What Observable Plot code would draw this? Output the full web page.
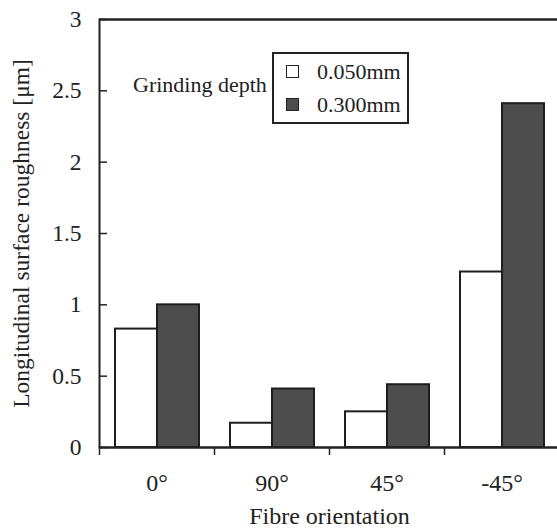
<!DOCTYPE html>
<html>
<head>
<meta charset="utf-8">
<script src="https://cdn.jsdelivr.net/npm/d3@7"></script>
<script src="https://cdn.jsdelivr.net/npm/@observablehq/plot@0.6"></script>
<style>
  html, body { margin: 0; padding: 0; background: #fff; }
  #chart { position: relative; width: 557px; height: 530px; font-family: "Liberation Serif", "DejaVu Serif", serif; color: #222; }
  #chart svg text { font-family: "Liberation Serif", serif; }
  #legendTitle { position: absolute; left: 133px; top: 72px; font-size: 22px; line-height: 26px; white-space: nowrap; }
  #legendBox { position: absolute; left: 272px; top: 52px; width: 133px; height: 68px; border: 2px solid #222; }
  .item { position: absolute; left: 12px; height: 26px; line-height: 26px; font-size: 22px; white-space: nowrap; }
  .sw { display: inline-block; width: 11px; height: 11px; border: 1.5px solid #222; vertical-align: middle; margin-right: 18px; position: relative; top: -2px; }
</style>
</head>
<body>
<div id="chart"></div>
<script>
// Data
const orientations = ["0°", "90°", "45°", "-45°"];
const depths = ["0.050mm", "0.300mm"];
const roughness005 = [0.83, 0.17, 0.25, 1.23];
const roughness030 = [1.00, 0.41, 0.44, 2.41];
const yTicks = [0, 0.5, 1, 1.5, 2, 2.5, 3];
const yTickLabels = ["0", "0.5", "1", "1.5", "2", "2.5", "3"];
const depthColors = ["#ffffff", "#4d4d4d"];

const data = [];
orientations.forEach((o, i) => {
  data.push({orientation: o, depth: depths[0], value: roughness005[i]});
  data.push({orientation: o, depth: depths[1], value: roughness030[i]});
});

const W = 557, H = 530, mL = 99, mR = -2, mT = 19, mB = 83;
const bandW = (W - mL - mR) / orientations.length;
const font = "'Liberation Serif', serif";

const plot = Plot.plot({
  width: W, height: H,
  marginLeft: mL, marginRight: mR, marginTop: mT, marginBottom: mB,
  style: {fontFamily: font, fontSize: "23px", color: "#222", background: "#fff", overflow: "visible"},
  fx: {domain: orientations, padding: 0},
  x: {domain: depths, paddingInner: 0, paddingOuter: 0.34, axis: null},
  y: {domain: [0, 3]},
  color: {domain: depths, range: depthColors},
  marks: [
    Plot.barY(data, {fx: "orientation", x: "depth", y: "value", fill: "depth", stroke: "#1e1e1e", strokeWidth: 2}),
    Plot.ruleY([0, 3], {stroke: "#222", strokeWidth: 2}),
    Plot.frame({facet: "super", stroke: "#222", strokeWidth: 2}),
    // tick labels
    Plot.axisY({ticks: yTicks, tickSize: 0, tickPadding: 18, fontSize: 23.5, fontFamily: font,
      tickFormat: (d) => yTickLabels[yTicks.indexOf(d)],
      label: "Longitudinal surface roughness [μm]", labelAnchor: "center", labelArrow: "none", labelOffset: 87}),
    // inward tick marks
    Plot.axisY({ticks: yTicks, tickSize: 8, dx: 8, tickFormat: () => "", strokeWidth: 1.5, label: null}),
    Plot.axisFx({anchor: "bottom", tickSize: 0, tickPadding: 26, fontSize: 24, fontFamily: font,
      label: "Fibre orientation", labelAnchor: "center", labelOffset: 76}),
    Plot.axisFx({anchor: "bottom", tickSize: 8, tickFormat: () => "", dx: -bandW / 2, strokeWidth: 1.5, label: null})
  ]
});

const chart = document.getElementById("chart");
chart.appendChild(plot);

// Legend (inside plot area, as in the reference)
const title = document.createElement("div");
title.id = "legendTitle";
title.textContent = "Grinding depth";
chart.appendChild(title);
const box = document.createElement("div");
box.id = "legendBox";
depths.forEach((d, i) => {
  const it = document.createElement("div");
  it.className = "item";
  it.style.top = (i === 0 ? 5 : 38) + "px";
  const sw = document.createElement("span");
  sw.className = "sw";
  sw.style.background = depthColors[i];
  it.appendChild(sw);
  it.appendChild(document.createTextNode(d));
  box.appendChild(it);
});
chart.appendChild(box);
</script>
</body>
</html>
